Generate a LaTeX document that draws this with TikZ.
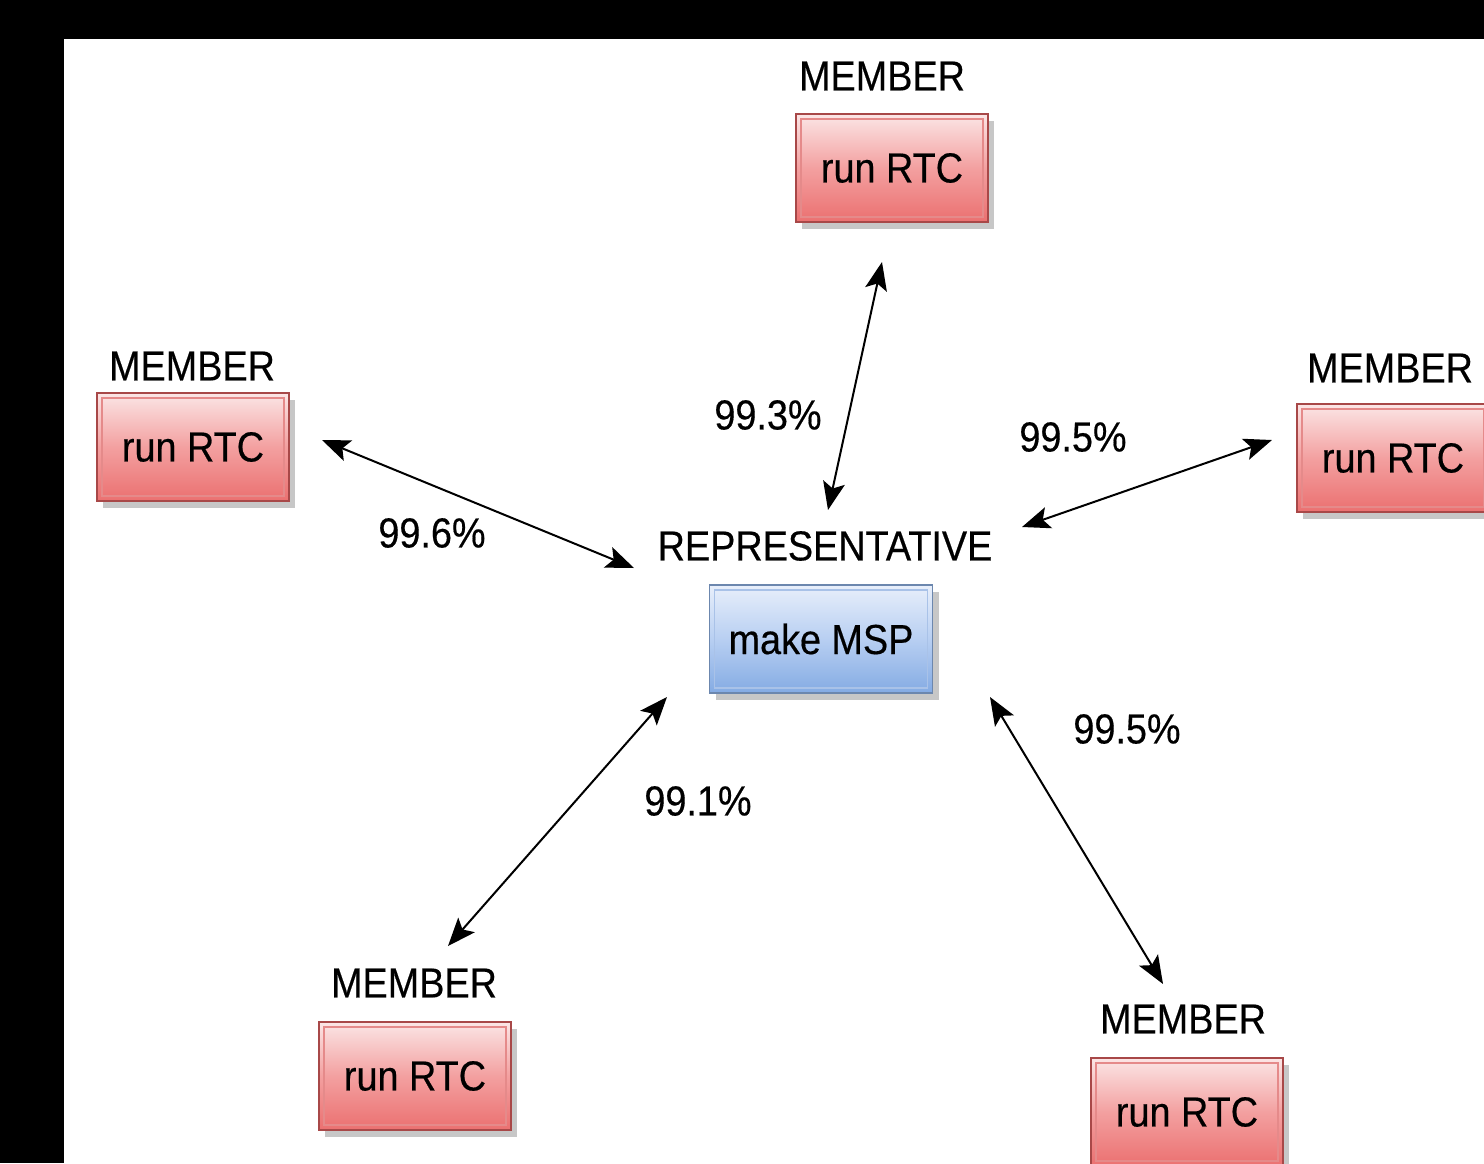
\documentclass[tikz,border=0pt]{standalone}
\usepackage{fontspec}
\setmainfont{Liberation Sans}[FakeStretch=0.9,FakeBold=0.4]
\usetikzlibrary{arrows.meta,shadows}
\definecolor{redtop}{HTML}{FBE6E6}
\definecolor{redbot}{HTML}{EB7070}
\definecolor{redmid}{HTML}{F3A0A0}
\definecolor{redline}{HTML}{A84848}
\definecolor{redinner}{HTML}{E58A8A}
\definecolor{bluetop}{HTML}{E8EFFB}
\definecolor{bluebot}{HTML}{84ABE3}
\definecolor{bluemid}{HTML}{B8CFF2}
\definecolor{blueline}{HTML}{6C87AE}
\definecolor{blueinner}{HTML}{A9C2E8}
\tikzset{
  boxbase/.style={line width=0.9pt, font=\fontsize{21}{24}\selectfont,
    drop shadow={shadow xshift=3pt, shadow yshift=-3.5pt, fill=black!22, opacity=1}},
  redbox/.style={boxbase, draw=redline, top color=redtop, bottom color=redbot, middle color=redmid,
    minimum width=96pt, minimum height=54pt,
    path picture={\draw[redinner, line width=0.6pt]
      ([shift={(2.5pt,-2.5pt)}]path picture bounding box.north west) rectangle
      ([shift={(-2.5pt,2.5pt)}]path picture bounding box.south east);}},
  bluebox/.style={boxbase, draw=blueline, top color=bluetop, bottom color=bluebot, middle color=bluemid,
    minimum width=111.5pt, minimum height=54pt,
    path picture={\draw[blueinner, line width=0.6pt]
      ([shift={(2.5pt,-2.5pt)}]path picture bounding box.north west) rectangle
      ([shift={(-2.5pt,2.5pt)}]path picture bounding box.south east);}},
  title/.style={font=\fontsize{21}{24}\selectfont, inner sep=0pt},
  pct/.style={font=\fontsize{21}{24}\selectfont, inner sep=0pt},
  link/.style={line width=1pt, {Stealth[length=14pt,width=11pt,inset=3pt]}-{Stealth[length=14pt,width=11pt,inset=3pt]}}
}
\begin{document}
\begin{tikzpicture}[x=0.5pt,y=-0.5pt]
\useasboundingbox (0,0) rectangle (1484,1163);
\clip (0,0) rectangle (1484,1163);
\fill[black] (0,0) rectangle (1484,1163);
\fill[white] (64,39) rectangle (1484,1163);

% boxes
\node[redbox] (top) at (892,168) {run RTC};
\node[title] (topt) at (882,76) {MEMBER};
\node[redbox] (left) at (193,447) {run RTC};
\node[title] (leftt) at (192,366) {MEMBER};
\node[redbox] (right) at (1393,458) {run RTC};
\node[title] (rightt) at (1390,368) {MEMBER};
\node[redbox] (bl) at (415,1076) {run RTC};
\node[title] (blt) at (414,983) {MEMBER};
\node[redbox] (br) at (1187,1112) {run RTC};
\node[title] (brt) at (1183,1019) {MEMBER};
\node[bluebox] (rep) at (821,639) {make MSP};
\node[title] (rept) at (825,546) {REPRESENTATIVE};

% arrow end points
\coordinate (a1) at (882,262);
\coordinate (b1) at (828,510);
\coordinate (a2) at (322,440);
\coordinate (b2) at (634,568);
\coordinate (a3) at (1272,440);
\coordinate (b3) at (1022,527);
\coordinate (a4) at (667,697);
\coordinate (b4) at (448,946);
\coordinate (a5) at (990,697);
\coordinate (b5) at (1163,984);

\draw[link] (a1) -- (b1);
\draw[link] (a2) -- (b2);
\draw[link] (a3) -- (b3);
\draw[link] (a4) -- (b4);
\draw[link] (a5) -- (b5);

% labels
\node[pct] (l1) at (768,415) {99.3\%};
\node[pct] (l2) at (432,533) {99.6\%};
\node[pct] (l3) at (1073,437) {99.5\%};
\node[pct] (l4) at (1127,729) {99.5\%};
\node[pct] (l5) at (698,801) {99.1\%};
\end{tikzpicture}
\end{document}
